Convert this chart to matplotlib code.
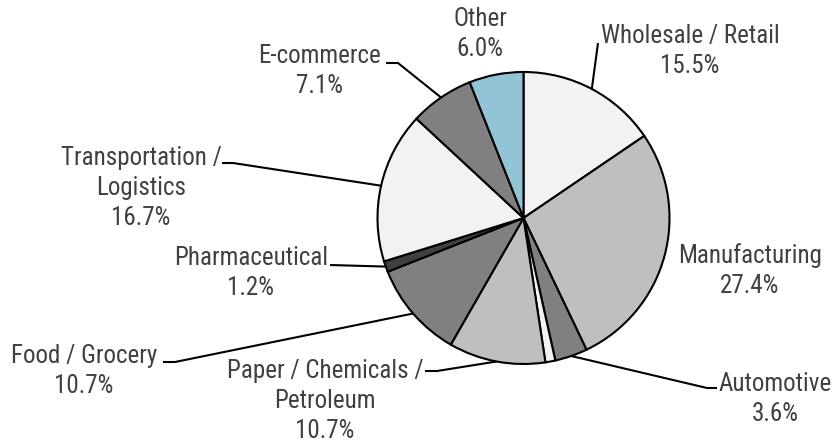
import numpy as np
import matplotlib
matplotlib.use("Agg")
import matplotlib.pyplot as plt
from matplotlib import font_manager

# data
sectors = ["Wholesale / Retail", "Manufacturing", "Automotive", "", "Paper / Chemicals /\nPetroleum",
           "Food / Grocery", "Pharmaceutical", "Transportation /\nLogistics", "E-commerce", "Other"]
shares = [15.5, 27.4, 3.6, 1.1, 10.7, 10.7, 1.2, 16.7, 7.1, 6.0]
colors = ["#f2f2f2", "#bfbfbf", "#808080", "#f2f2f2", "#bfbfbf",
          "#808080", "#404040", "#f2f2f2", "#808080", "#92c4d6"]

# label layout (pixels from top-left): text center x, first baseline y, leader elbow points
label_pos = {
    0: (690, 43, [(598, 43)]),
    1: (750, 263, None),
    2: (775, 391, [(707, 388), (717, 388)]),
    4: (325, 378, [(437, 371), (425, 371)]),
    5: (84, 363, [(175, 362), (163, 362)]),
    6: (251, 265, [(330, 265)]),
    7: (141, 165, [(233, 163), (222, 163)]),
    8: (320, 63, [(398, 63), (386, 63)]),
    9: (480, 26, None),
}

W, H = 833, 443
names = set(f.name for f in font_manager.fontManager.ttflist)
fam = [f for f in ["Roboto Condensed", "Liberation Sans", "DejaVu Sans"] if f in names] or ["DejaVu Sans"]
plt.rcParams["font.family"] = fam

fig = plt.figure(figsize=(W / 100, H / 100), dpi=100)
ax = fig.add_axes([0, 0, 1, 1])

cx, cy, r = 523.5, H - 218, 146
wedges, _ = ax.pie(shares, colors=colors, startangle=90, counterclock=False,
                   center=(cx, cy), radius=r,
                   wedgeprops=dict(edgecolor="black", linewidth=1.5))
ax.set_xlim(0, W)
ax.set_ylim(0, H)
ax.axis("off")

line_h = 30
for i, (tx, by, elbow) in label_pos.items():
    lines = sectors[i].split("\n") + ["%.1f%%" % shares[i]]
    for k, s in enumerate(lines):
        ax.text(tx, H - (by + k * line_h), s, ha="center", va="baseline",
                fontsize=18, color="#404040")
    if elbow:
        w = wedges[i]
        ang = np.deg2rad((w.theta1 + w.theta2) / 2)
        xs = [cx + r * np.cos(ang)] + [p[0] for p in elbow]
        ys = [cy + r * np.sin(ang)] + [H - p[1] for p in elbow]
        ax.plot(xs, ys, color="black", lw=1.5, solid_capstyle="butt")

fig.savefig("out.png", dpi=100)
